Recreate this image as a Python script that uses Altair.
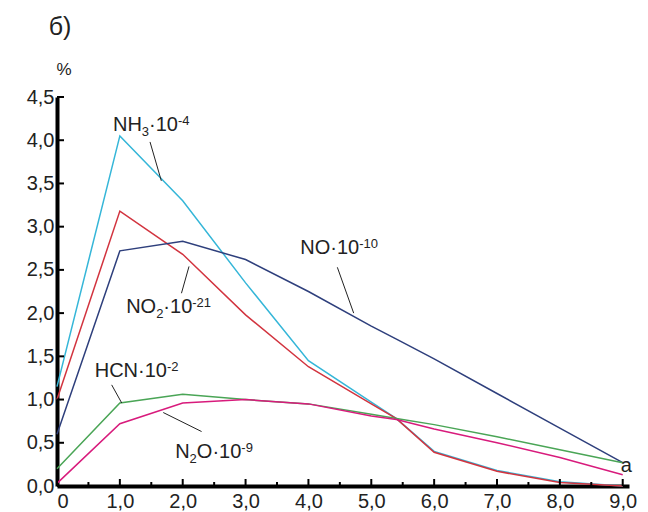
import altair as alt
import pandas as pd

# ---- data ----
xs = [0, 1, 2, 3, 4, 5, 5.4, 6, 7, 8, 9]
nh3 = [1.15, 4.05, 3.30, 2.35, 1.45, 0.97, 0.78, 0.40, 0.18, 0.05, 0.00]
no2 = [1.00, 3.18, 2.68, 1.98, 1.38, 0.95, 0.78, 0.39, 0.17, 0.04, 0.00]
no = [0.60, 2.72, 2.83, 2.62, 2.25, 1.85, 1.70, 1.47, 1.07, 0.67, 0.27]
hcn = [0.20, 0.96, 1.06, 1.00, 0.95, 0.83, 0.78, 0.71, 0.57, 0.42, 0.27]
n2o = [0.03, 0.72, 0.96, 1.00, 0.95, 0.81, 0.77, 0.66, 0.50, 0.33, 0.13]

series_names = ["NH3", "NO2", "NO", "HCN", "N2O"]
series_vals = [nh3, no2, no, hcn, n2o]
series_colors = ["#35b6d8", "#d2343f", "#2e3f7c", "#4aa556", "#d81b7c"]

# annotation labels: pieces (text, kind) with kind m=main, sub, sup
lab_pieces = [
    [("NH", "m"), ("3", "sub"), ("·10", "m"), ("-4", "sup")],
    [("NO", "m"), ("2", "sub"), ("·10", "m"), ("-21", "sup")],
    [("NO·10", "m"), ("-10", "sup")],
    [("HCN·10", "m"), ("-2", "sup")],
    [("N", "m"), ("2", "sub"), ("O·10", "m"), ("-9", "sup")],
    [("а", "m")],
]
lab_x = [0.89, 1.10, 3.87, 0.60, 1.88, 8.97]
lab_y = [4.11, 2.00, 2.68, 1.26, 0.32, 0.16]

# leader lines (label -> curve)
lead_x1 = [1.48, 2.10, 4.46, 0.87, 1.69]
lead_y1 = [3.98, 2.54, 2.53, 1.17, 0.85]
lead_x2 = [1.66, 1.98, 4.72, 1.03, 2.30]
lead_y2 = [3.53, 2.23, 2.00, 0.96, 0.63]

x_ticks_major = [0, 1, 2, 3, 4, 5, 6, 7, 8, 9]
x_ticks_minor = [0.5, 1.5, 2.5, 3.5, 4.5, 5.5, 6.5, 7.5, 8.5]
y_ticks = [0, 0.5, 1.0, 1.5, 2.0, 2.5, 3.0, 3.5, 4.0, 4.5]

W, H = 572, 389
XMAX = 9.1
FONT = "Liberation Sans, Arial, sans-serif"
MAIN_FS, SMALL_FS = 20, 13

# Arial / Liberation Sans advance widths (em)
ADV = {"N": 0.722, "H": 0.722, "O": 0.778, "C": 0.722, "·": 0.333,
       "-": 0.333, "а": 0.556}
def text_width(s, fs):
    return sum(ADV.get(ch, 0.556) for ch in s) * fs

px_per_x = W / XMAX

rows = []
for name, vals in zip(series_names, series_vals):
    for xv, yv in zip(xs, vals):
        rows.append({"s": name, "x": xv, "y": yv})
df = pd.DataFrame(rows)

lab_rows = []
for pieces, x0, y0 in zip(lab_pieces, lab_x, lab_y):
    off = 0.0
    for t, kind in pieces:
        fs = MAIN_FS if kind == "m" else SMALL_FS
        lab_rows.append({"t": t, "k": kind, "x": x0 + off / px_per_x, "y": y0})
        off += text_width(t, fs)
lab_df = pd.DataFrame(lab_rows)

xscale = alt.Scale(domain=[0, XMAX], nice=False, zero=False)
yscale = alt.Scale(domain=[0, 4.5], nice=False)

lines = alt.Chart(df).mark_line(strokeWidth=1.5).encode(
    x=alt.X("x:Q", scale=xscale, axis=alt.Axis(
        values=x_ticks_major, title=None, ticks=False, grid=False,
        domainColor="black", domainWidth=4, labelFont=FONT, labelFontSize=20,
        labelColor="#222", labelPadding=5,
        labelExpr="datum.value == 0 ? '0' : replace(format(datum.value, '.1f'), '.', ',')")),
    y=alt.Y("y:Q", scale=yscale, axis=alt.Axis(
        values=y_ticks, title=None, ticks=False, grid=False,
        domainColor="black", domainWidth=4, labelFont=FONT, labelFontSize=20,
        labelColor="#222", labelPadding=3,
        labelExpr="replace(format(datum.value, '.1f'), '.', ',')")),
    color=alt.Color("s:N", scale=alt.Scale(domain=series_names, range=series_colors), legend=None),
    detail="s:N",
)

lead_df = pd.DataFrame({"x1": lead_x1, "y1": lead_y1, "x2": lead_x2, "y2": lead_y2})
leaders = alt.Chart(lead_df).mark_rule(color="#222", strokeWidth=1).encode(
    x=alt.X("x1:Q", scale=xscale), y=alt.Y("y1:Q", scale=yscale),
    x2="x2:Q", y2="y2:Q")

def label_layer(kind, fs, dy):
    return alt.Chart(lab_df).transform_filter(
        alt.datum.k == kind
    ).mark_text(
        align="left", baseline="alphabetic", font=FONT, fontSize=fs, color="#222", dy=dy
    ).encode(x=alt.X("x:Q", scale=xscale), y=alt.Y("y:Q", scale=yscale), text="t:N")

lab_main = label_layer("m", MAIN_FS, 0)
lab_sub = label_layer("sub", SMALL_FS, 5)
lab_sup = label_layer("sup", SMALL_FS, -6)

ytick_df = pd.DataFrame({"v": y_ticks})
yt = alt.Chart(ytick_df).mark_rule(color="black", strokeWidth=2).encode(
    y=alt.Y("v:Q", scale=yscale), x=alt.value(0), x2=alt.value(7))

xmaj_df = pd.DataFrame({"v": x_ticks_major})
xt = alt.Chart(xmaj_df).mark_rule(color="black", strokeWidth=2).encode(
    x=alt.X("v:Q", scale=xscale), y=alt.value(H), y2=alt.value(H - 7))
xmin_df = pd.DataFrame({"v": x_ticks_minor})
xtm = alt.Chart(xmin_df).mark_rule(color="black", strokeWidth=2).encode(
    x=alt.X("v:Q", scale=xscale), y=alt.value(H), y2=alt.value(H - 4))

misc_df = pd.DataFrame({"t": ["б)", "%"], "px": [3, 7], "py": [-70, -27], "fs": [25, 17]})
misc = alt.Chart(misc_df).mark_text(
    align="center", baseline="middle", font=FONT, color="#222"
).encode(x=alt.X("px:Q", scale=None), y=alt.Y("py:Q", scale=None), text="t:N",
         size=alt.Size("fs:Q", scale=None, legend=None))

chart = alt.layer(lines, leaders, lab_main, lab_sub, lab_sup, yt, xt, xtm, misc).properties(
    width=W, height=H,
    autosize=alt.AutoSizeParams(type="none"),
    padding={"left": 57, "top": 97, "right": 648 - 57 - W, "bottom": 512 - 97 - H},
).configure_view(stroke=None)

chart.save("out.html", embed_options={"renderer": "svg", "actions": False})
